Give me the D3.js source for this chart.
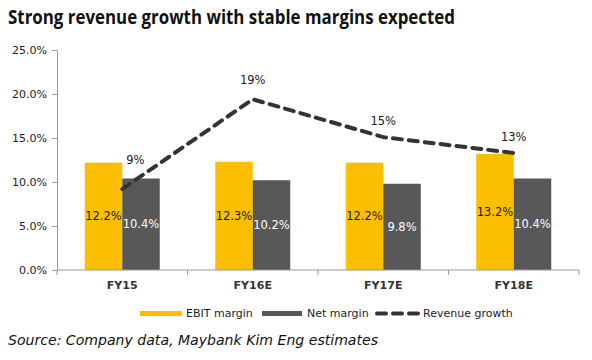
<!DOCTYPE html>
<html><head><meta charset="utf-8">
<script src="https://cdn.jsdelivr.net/npm/d3@7"></script>
<style>body{margin:0;background:#fff}svg{display:block}</style>
</head><body>
<script>
const categories = ["FY15","FY16E","FY17E","FY18E"];
const ebitMargin = [12.2,12.3,12.2,13.2];
const netMargin = [10.4,10.2,9.8,10.4];
const revenueGrowth = [9.2,19.4,15.1,13.3];
const revenueLabels = ["9%","19%","15%","13%"];
const yTicks = [0,5,10,15,20,25];
const seriesNames = ["EBIT margin","Net margin","Revenue growth"];

const W=592,H=360;
const svg=d3.select("body").append("svg").attr("width",W).attr("height",H);
const font="Verdana, 'DejaVu Sans', sans-serif";
const pLeft=57,pRight=579,pTop=50,pBottom=270;

svg.append("text").attr("x",8).attr("y",24).attr("font-family","'Open Sans', sans-serif")
  .attr("font-weight","bold").attr("font-size",19.5).attr("fill","#111")
  .attr("textLength",447).attr("lengthAdjust","spacingAndGlyphs")
  .text("Strong revenue growth with stable margins expected");

const y=d3.scaleLinear().domain([0,25]).range([pBottom,pTop]);
const x=d3.scaleBand().domain(categories).range([pLeft,pRight]);
const inner=d3.scaleBand().domain([0,1]).range([0,75]);
const barOff=(x.bandwidth()-75)/2;

// y axis
const ya=svg.append("g").attr("transform",`translate(${pLeft},0)`)
  .call(d3.axisLeft(y).tickValues(yTicks).tickFormat(d=>d.toFixed(1)+"%").tickSizeOuter(0).tickSize(5));
ya.select(".domain").attr("stroke","#999");
ya.selectAll(".tick line").attr("stroke","#999");
ya.selectAll("text").attr("font-family",font).attr("font-size",11).attr("fill","#222").attr("dx",-2);

const colors=["#FBBE00","#585858"];
const series=[ebitMargin,netMargin];
series.forEach((s,si)=>{
  svg.append("g").selectAll("rect").data(s).join("rect")
    .attr("x",(d,i)=>x(categories[i])+barOff+inner(si))
    .attr("width",inner.bandwidth())
    .attr("y",d=>y(d)).attr("height",d=>y(0)-y(d))
    .attr("fill",colors[si]);
  svg.append("g").selectAll("text").data(s).join("text")
    .attr("x",(d,i)=>x(categories[i])+barOff+inner(si)+inner.bandwidth()/2)
    .attr("y",d=>(y(d)+y(0))/2+4)
    .attr("text-anchor","middle").attr("font-family",font).attr("font-size",11.5)
    .attr("fill",si===0?"#1a1a1a":"#fff")
    .text(d=>d.toFixed(1)+"%");
});

// x axis
const xa=svg.append("g").attr("transform",`translate(0,${pBottom})`);
xa.append("line").attr("x1",pLeft).attr("x2",pRight).attr("stroke","#999");
const bounds=categories.map(c=>x(c)).concat([pRight]);
xa.selectAll("line.t").data(bounds).join("line").attr("class","t")
  .attr("x1",d=>d).attr("x2",d=>d).attr("y1",0).attr("y2",5).attr("stroke","#999");
xa.selectAll("text").data(categories).join("text")
  .attr("x",d=>x(d)+x.bandwidth()/2).attr("y",19).attr("text-anchor","middle")
  .attr("font-family",font).attr("font-size",11).attr("font-weight","bold").attr("fill","#333")
  .text(d=>d);

// line
const cx=i=>x(categories[i])+x.bandwidth()/2;
const line=d3.line().x((d,i)=>cx(i)).y(d=>y(d));
svg.append("path").datum(revenueGrowth).attr("d",line).attr("fill","none")
  .attr("stroke","#333").attr("stroke-width",4).attr("stroke-dasharray","9,7").attr("stroke-linecap","round");
svg.append("g").selectAll("text").data(revenueGrowth).join("text")
  .attr("x",(d,i)=>cx(i)+(i===0?13:0)).attr("y",(d,i)=>y(d)-(i===0?25:i===1?15:12))
  .attr("text-anchor","middle").attr("font-family",font).attr("font-size",11.5).attr("fill","#1a1a1a")
  .text((d,i)=>revenueLabels[i]);

// legend
const lg=svg.append("g").attr("font-family",font).attr("font-size",11).attr("fill","#222");
lg.append("rect").attr("x",140).attr("y",311).attr("width",42).attr("height",5).attr("fill",colors[0]);
lg.append("text").attr("x",186).attr("y",317).text(seriesNames[0]);
lg.append("rect").attr("x",262).attr("y",311).attr("width",40).attr("height",5).attr("fill",colors[1]);
lg.append("text").attr("x",307).attr("y",317).text(seriesNames[1]);
lg.append("line").attr("x1",377).attr("x2",418).attr("y1",313.5).attr("y2",313.5)
  .attr("stroke","#333").attr("stroke-width",4).attr("stroke-dasharray","9,7").attr("stroke-linecap","round");
lg.append("text").attr("x",423).attr("y",317).text(seriesNames[2]);

svg.append("text").attr("x",8).attr("y",345).attr("font-family",font).attr("font-style","italic")
  .attr("font-size",13.5).attr("fill","#111")
  .attr("textLength",370).attr("lengthAdjust","spacingAndGlyphs")
  .text("Source: Company data, Maybank Kim Eng estimates");
</script>
</body></html>
